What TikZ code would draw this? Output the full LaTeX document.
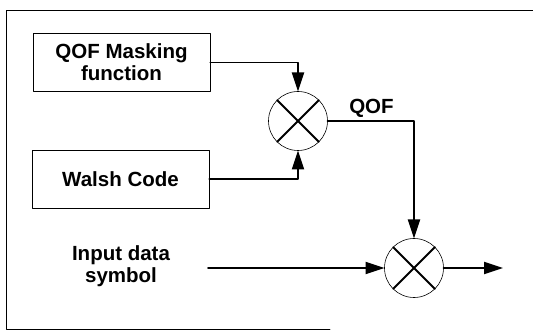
\documentclass[tikz,border=0pt]{standalone}
\usepackage{fontspec}
\setmainfont{Liberation Sans}
\usepackage{tikz}
\usetikzlibrary{arrows.meta}

\begin{document}
\begin{tikzpicture}[line cap=round,line join=round,>={Triangle[length=19pt,width=12pt]},x=1pt,y=-1pt,
  blk/.style={draw,line width=0.8pt,minimum width=177pt,minimum height=58pt,inner sep=0pt,align=center,font=\bfseries\fontsize{20.5}{22}\selectfont},
  lbl/.style={inner sep=0pt,align=center,font=\bfseries\fontsize{20.5}{22}\selectfont},
  mix/.style={draw,circle,line width=0.6pt,minimum size=59pt,inner sep=0pt,outer sep=0pt},
  sig/.style={line width=1.9pt}]
\useasboundingbox (0,0) rectangle (533,331);
\draw[line width=0.8pt] (533,10) -- (6,10) -- (6,329) -- (330,329);
\node[blk] (mask) at (121.5,62.5) {QOF Masking\\function};
\node[blk] (walsh) at (120.5,179) {Walsh Code};
\node[mix] (m1) at (298,121) {};
\node[mix] (m2) at (414,268) {};
\draw[line width=1.8pt] (m1.north west) -- (m1.south east) (m1.north east) -- (m1.south west);
\draw[line width=1.8pt] (m2.north west) -- (m2.south east) (m2.north east) -- (m2.south west);
\node[lbl,anchor=base] (qof) at (371.5,114) {QOF};
\node[lbl] (inp) at (121,266.5) {Input data\\symbol};
\coordinate (in) at (208,268);
\coordinate (out) at (503,268);
\draw[sig,->] (mask.east) -| (m1.north);
\draw[sig,->] (walsh.east) -| (m1.south);
\draw[sig,->] (m1.east) -| (m2.north);
\draw[sig,->] (in) -- (m2.west);
\draw[sig,->] (m2.east) -- (out);
\end{tikzpicture}
\end{document}
